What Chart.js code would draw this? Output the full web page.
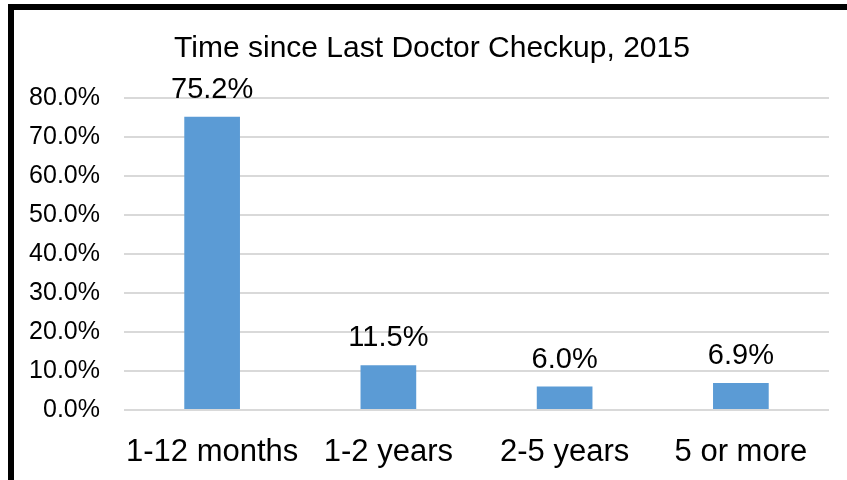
<!DOCTYPE html>
<html>
<head>
<meta charset="utf-8">
<script src="https://cdn.jsdelivr.net/npm/chart.js@4"></script>
<style>
  html, body { margin: 0; padding: 0; background: #fff; overflow: hidden; }
  #wrap { position: relative; width: 847px; height: 480px; }
  #frame {
    position: absolute; left: 8px; top: 4px; width: 900px; height: 500px;
    border-left: 6px solid #000; border-top: 6px solid #000;
    pointer-events: none;
  }
  canvas { position: absolute; left: 0; top: 0; }
</style>
</head>
<body>
<div id="wrap">
  <canvas id="chart" width="847" height="480"></canvas>
  <div id="frame"></div>
</div>
<script>
// ── data ──────────────────────────────────────
const titleText  = 'Time since Last Doctor Checkup, 2015';
const categories = ['1-12 months', '1-2 years', '2-5 years', '5 or more'];
const shares     = [75.2, 11.5, 6.0, 6.9];
const yMin = 0, yMax = 80, yStep = 10;

const FONT = "'Liberation Sans', Arial, sans-serif";

// title drawn centred over the frame
const titlePlugin = {
  id: 'titleText',
  afterDraw(chart) {
    const ctx = chart.ctx;
    ctx.save();
    ctx.font = `30px ${FONT}`;
    ctx.fillStyle = '#000';
    ctx.textAlign = 'center';
    ctx.textBaseline = 'alphabetic';
    ctx.fillText(titleText, 432, 57);
    ctx.restore();
  },
};

// value labels above each bar
const valueLabels = {
  id: 'valueLabels',
  afterDatasetsDraw(chart) {
    const ctx  = chart.ctx;
    const meta = chart.getDatasetMeta(0);
    ctx.save();
    ctx.font = `29px ${FONT}`;
    ctx.fillStyle = '#000';
    ctx.textAlign = 'center';
    ctx.textBaseline = 'alphabetic';
    meta.data.forEach((bar, i) => {
      ctx.fillText(shares[i].toFixed(1) + '%', bar.x, bar.y - 19);
    });
    ctx.restore();
  },
};

new Chart(document.getElementById('chart'), {
  type: 'bar',
  data: {
    labels: categories,
    datasets: [{
      data: shares,
      backgroundColor: '#5b9bd5',
      borderWidth: 0,
      barPercentage: 0.316,
      categoryPercentage: 1,
    }],
  },
  options: {
    responsive: false,
    animation: false,
    layout: { padding: { top: 98, left: 0, right: 18, bottom: 0 } },
    plugins: {
      legend: { display: false },
      tooltip: { enabled: false },
    },
    scales: {
      x: {
        grid: { display: false, drawTicks: false },
        border: { display: false },
        ticks: { color: '#000', font: { family: FONT, size: 31 }, padding: 24, maxRotation: 0 },
        afterFit: s => { s.height = 70; },
      },
      y: {
        min: yMin, max: yMax,
        grid: { color: '#d9d9d9', lineWidth: 2, drawTicks: false },
        border: { display: false },
        ticks: {
          stepSize: yStep,
          color: '#000',
          font: { family: FONT, size: 25 },
          padding: 24,
          callback: v => v.toFixed(1) + '%',
        },
        afterFit: s => { s.width = 124; },
      },
    },
  },
  plugins: [titlePlugin, valueLabels],
});
</script>
</body>
</html>
